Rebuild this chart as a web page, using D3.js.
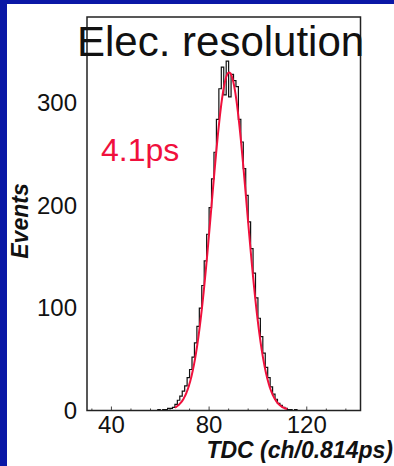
<!DOCTYPE html>
<html>
<head>
<meta charset="utf-8">
<script src="https://cdn.jsdelivr.net/npm/d3@7"></script>
<style>
  html, body { margin: 0; padding: 0; background: #fff; }
  svg { display: block; }
  text { font-family: "Liberation Sans", Arial, Helvetica, sans-serif; }
</style>
</head>
<body>
<div id="chart"></div>
<script>
// histogram: first channel + counts per 1-channel bin
var firstChannel = 58;
var counts = [0, 1, 0, 1, 1, 2, 2, 3, 6, 10,
              14, 19, 24, 32, 40, 52, 66, 82, 100, 122,
              146, 172, 198, 226, 252, 284, 314, 335, 308, 341,
              306, 328, 322, 316, 284, 262, 236, 210, 184, 158,
              134, 110, 90, 72, 56, 42, 32, 23, 16, 11,
              7, 5, 3, 2, 1, 1, 0, 1];
// gaussian fit: amplitude, mean, sigma (channels) and drawn range
var fitParams = [330, 88.2, 7.2];
var fitRange = [66, 112];
var xTicks = [40, 80, 120];
var yTicks = [0, 100, 200, 300];
var title = "Elec. resolution";
var fitLabel = "4.1ps";
var xTitle = "TDC (ch/0.814ps)";
var yTitle = "Events";

var W = 394, H = 466;
var svg = d3.select("#chart").append("svg").attr("width", W).attr("height", H);

// blue slide border
svg.append("rect").attr("width", W).attr("height", H).attr("fill", "#0a18a6");
svg.append("rect").attr("x", 7).attr("y", 4).attr("width", W - 7).attr("height", H - 4).attr("fill", "#fff");

var x = d3.scaleLinear().domain([30, 142]).range([87, 360.5]);
var y = d3.scaleLinear().domain([0, 384]).range([410.5, 17]);

// ticks on the x axis (major every 40, minor every 8)
var minor = d3.range(32, 142, 8);
svg.append("g").selectAll("line").data(minor).enter().append("line")
    .attr("x1", d => x(d)).attr("x2", d => x(d))
    .attr("y1", y(0)).attr("y2", d => y(0) - (d % 40 == 0 ? 4 : 2))
    .attr("stroke", "#444").attr("stroke-width", 1);

// histogram outline
var pts = [[x.domain()[0], 0], [firstChannel, 0]];
counts.forEach(function (c, i) {
    pts.push([firstChannel + i, c]);
    pts.push([firstChannel + i + 1, c]);
});
pts.push([firstChannel + counts.length, 0]);
pts.push([x.domain()[1], 0]);
svg.append("path")
    .attr("d", d3.line().x(d => x(d[0])).y(d => y(d[1])).curve(d3.curveLinear)(pts))
    .attr("fill", "none").attr("stroke", "#111").attr("stroke-width", 1.2);

// fit curve
var gaus = function (t) {
    var z = (t - fitParams[1]) / fitParams[2];
    return fitParams[0] * Math.exp(-0.5 * z * z);
};
var fitPts = d3.range(fitRange[0], fitRange[1] + 0.001, 0.25).map(t => [t, gaus(t)]);
svg.append("path")
    .attr("d", d3.line().x(d => x(d[0])).y(d => y(d[1])).curve(d3.curveBasis)(fitPts))
    .attr("fill", "none").attr("stroke", "#f0103c").attr("stroke-width", 2);

// frame
svg.append("rect")
    .attr("x", x.range()[0]).attr("y", y.range()[1])
    .attr("width", x.range()[1] - x.range()[0]).attr("height", y.range()[0] - y.range()[1])
    .attr("fill", "none").attr("stroke", "#222").attr("stroke-width", 1.5);

// tick labels
svg.append("g").selectAll("text").data(xTicks).enter().append("text")
    .attr("x", d => x(d)).attr("y", 433)
    .attr("text-anchor", "middle").attr("font-size", 24).attr("fill", "#111")
    .text(d => d);
svg.append("g").selectAll("text").data(yTicks).enter().append("text")
    .attr("x", 77).attr("y", d => y(d) + 8)
    .attr("text-anchor", "end").attr("font-size", 24).attr("fill", "#111")
    .text(d => d);

// titles
svg.append("text").attr("x", 77).attr("y", 56)
    .attr("font-size", 42).attr("fill", "#111").text(title);
svg.append("text").attr("x", 101).attr("y", 161)
    .attr("font-size", 32).attr("fill", "#f0103c").text(fitLabel);
svg.append("text").attr("x", 393).attr("y", 458)
    .attr("text-anchor", "end").attr("font-size", 23)
    .attr("font-weight", "bold").attr("font-style", "italic").attr("fill", "#111")
    .text(xTitle);
svg.append("text").attr("transform", "translate(28,221) rotate(-90)")
    .attr("text-anchor", "middle").attr("font-size", 23)
    .attr("font-weight", "bold").attr("font-style", "italic").attr("fill", "#111")
    .text(yTitle);
</script>
</body>
</html>
